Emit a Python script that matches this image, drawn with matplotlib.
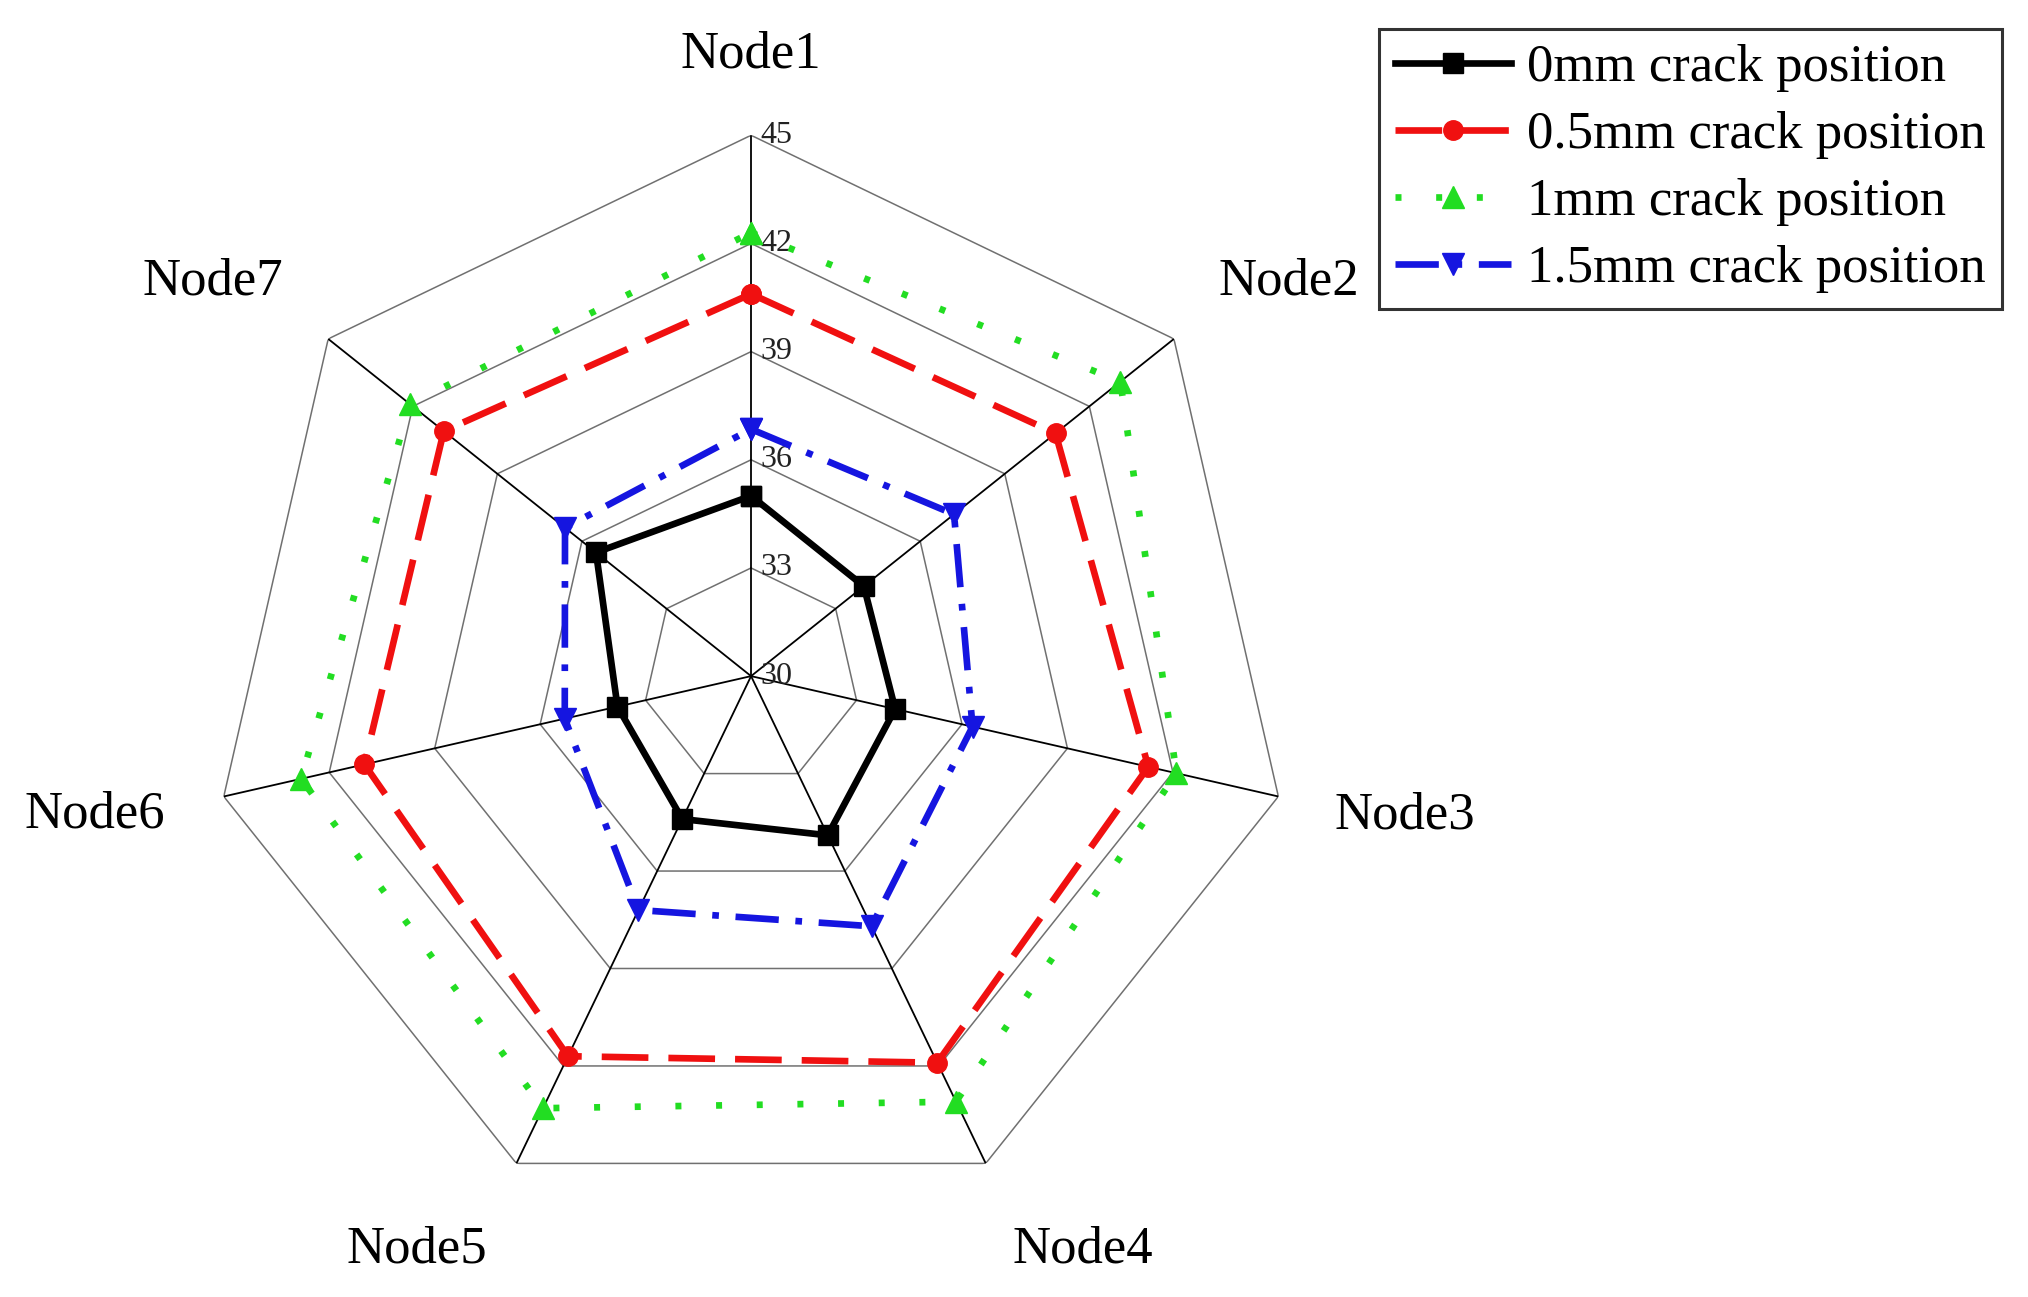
import numpy as np
import matplotlib
matplotlib.use("Agg")
import matplotlib.pyplot as plt

plt.rcParams['font.family'] = ['Liberation Serif', 'DejaVu Serif']

nodes = ['Node1', 'Node2', 'Node3', 'Node4', 'Node5', 'Node6', 'Node7']
levels = [30, 33, 36, 39, 42, 45]

crack_0 = [35.0, 34.0, 34.1, 34.9, 34.4, 33.8, 35.5]
crack_05 = [40.6, 40.8, 41.3, 41.9, 41.7, 41.0, 40.9]
crack_1 = [42.3, 43.1, 42.1, 43.1, 43.3, 42.8, 42.1]
crack_15 = [36.85, 37.2, 36.3, 37.7, 37.2, 35.3, 36.6]

series = [
    ('0mm crack position', crack_0, '#000000', '-', 's', 15),
    ('0.5mm crack position', crack_05, '#f01010', (0, (7, 3)), 'o', 14),
    ('1mm crack position', crack_1, '#22dd22', (0, (0.9, 5.2)), '^', 16),
    ('1.5mm crack position', crack_15, '#1515e0', (0, (6.5, 2.5, 1, 2.5)), 'v', 16),
]

n = len(nodes)
theta = np.linspace(0, 2 * np.pi, n, endpoint=False)
theta_c = np.append(theta, theta[0])

fig = plt.figure(figsize=(20.28, 12.97), dpi=100)
ax = fig.add_axes([0.1036, 0.0617, 0.5335, 0.834], projection='polar')
ax.set_theta_zero_location('N')
ax.set_theta_direction(-1)
ax.set_ylim(levels[0], levels[-1])
ax.grid(False)
ax.spines['polar'].set_visible(False)
ax.set_xticks([])
ax.set_yticks([])

# polygon grid
for lv in levels[1:]:
    ax.plot(theta_c, [lv] * (n + 1), color='#707070', lw=1.1, zorder=1)
# spokes
for t in theta:
    ax.plot([t, t], [levels[0], levels[-1]], color='black', lw=1.3, zorder=1)

# radial tick labels along Node1 axis
for lv in levels:
    ax.annotate(str(lv), xy=(0, lv), xytext=(7, 0), textcoords='offset points',
                ha='left', va='center', fontsize=23, color='#222222', zorder=2)

# node labels, offset from the outer vertex
label_off = [(0, 58), (83, 41), (91, -14), (70, -62), (-72, -62), (-93, -13), (-83, 41)]
for t, name, off in zip(theta, nodes, label_off):
    ax.annotate(name, xy=(t, levels[-1]), xytext=off, textcoords='offset points',
                ha='center', va='center', fontsize=38, annotation_clip=False)

for label, vals, color, ls, marker, ms in series:
    ax.plot(theta_c, vals + vals[:1], color=color, ls=ls, lw=4.8,
            marker=marker, ms=ms, mfc=color, mec=color, label=label,
            zorder=3, clip_on=False)

leg = fig.legend(loc='upper right', bbox_to_anchor=(0.987, 0.978),
                 fontsize=38, frameon=True, fancybox=False, edgecolor='black',
                 handlelength=2.2, handletextpad=0.3, borderpad=0.3,
                 labelspacing=0.36, borderaxespad=0)
leg.get_frame().set_linewidth(2.2)

fig.savefig('out.png', dpi=100, facecolor='white')
